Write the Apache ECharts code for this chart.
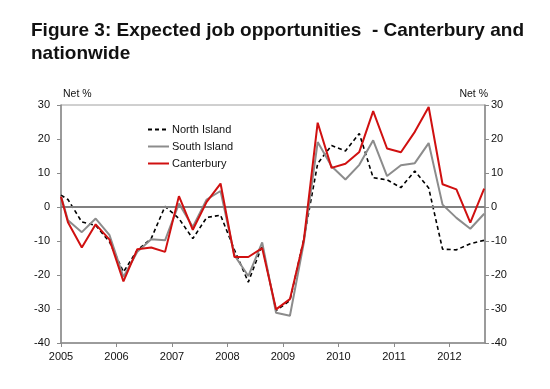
<!DOCTYPE html>
<html>
<head>
<meta charset="utf-8">
<script src="https://cdn.jsdelivr.net/npm/echarts@6/dist/echarts.min.js"></script>
<style>
html,body{margin:0;padding:0;background:#fff;}
#chart{width:550px;height:389px;}
</style>
</head>
<body>
<div id="chart"></div>
<script>
// Survey dates as decimal years (first point at start of 2005, then mid-quarter)
const dates = [2005.0, 2005.125, 2005.375, 2005.625, 2005.875,
  2006.125, 2006.375, 2006.625, 2006.875,
  2007.125, 2007.375, 2007.625, 2007.875,
  2008.125, 2008.375, 2008.625, 2008.875,
  2009.125, 2009.375, 2009.625, 2009.875,
  2010.125, 2010.375, 2010.625, 2010.875,
  2011.125, 2011.375, 2011.625, 2011.875,
  2012.125, 2012.375, 2012.625];
const northIsland = [3.5, 2.2, -4.4, -5.4, -10.3, -19.1, -12.7, -9.3, 0.2, -3.4, -9.3, -3.1, -2.4,
  -12.6, -22.1, -11.3, -30.5, -27.5, -9.5, 12.8, 18.1, 16.5, 21.6, 8.6, 8.0, 5.7, 10.6, 5.6,
  -12.4, -12.6, -10.8, -9.8];
const southIsland = [3.2, -3.9, -7.4, -3.4, -8.3, -20.6, -13.2, -9.5, -9.8, 1.0, -5.9, 2.2, 4.7,
  -14.2, -20.3, -10.4, -31.1, -32.0, -10.5, 19.1, 12.0, 8.1, 12.4, 19.6, 9.1, 12.3, 12.9, 18.8,
  0.7, -3.2, -6.4, -2.0];
const canterbury = [3.0, -4.5, -11.9, -5.1, -9.6, -21.9, -12.4, -11.9, -13.2, 3.2, -6.7, 1.5, 6.9,
  -14.7, -14.7, -12.1, -30.1, -27.1, -9.8, 24.8, 11.5, 12.7, 16.2, 28.2, 17.2, 16.1, 22.1, 29.4,
  6.7, 5.2, -4.6, 5.4];
const yearTicks = [2005, 2006, 2007, 2008, 2009, 2010, 2011, 2012];
const seriesNames = ['North Island', 'South Island', 'Canterbury'];

const pair = (vals) => vals.map((v, i) => [dates[i], v]);
const font = 'Liberation Sans, Arial, sans-serif';

const chart = echarts.init(document.getElementById('chart'), null, {renderer: 'canvas'});
const yAxisCommon = {
  type: 'value', min: -40, max: 30, interval: 10,
  axisLine: {show: true, lineStyle: {color: '#8a8a8a', width: 1.5}},
  axisTick: {show: true, inside: false, length: 4, lineStyle: {color: '#8a8a8a'}},
  splitLine: {show: false},
  nameTextStyle: {color: '#111', fontSize: 10.5, fontFamily: font}
};
chart.setOption({
  animation: false,
  backgroundColor: '#fff',
  title: {
    text: 'Figure 3: Expected job opportunities  - Canterbury and\nnationwide',
    left: 26, top: 14,
    textStyle: {fontSize: 19, fontWeight: 'bold', color: '#111', fontFamily: font, lineHeight: 23}
  },
  legend: {
    orient: 'vertical', left: 147, top: 124, padding: 0,
    itemWidth: 21, itemHeight: 10, itemGap: 6,
    itemStyle: {opacity: 0},
    textStyle: {fontSize: 11, color: '#111', fontFamily: font, padding: [0, 0, 0, -2]},
    data: seriesNames
  },
  grid: {left: 61, right: 65, top: 105, bottom: 46, show: true, borderColor: '#a0a0a0', borderWidth: 1},
  xAxis: {
    type: 'value', min: 2005, max: 2012.64, interval: 1,
    axisLine: {show: true, onZero: false, lineStyle: {color: '#8a8a8a', width: 1.5}},
    axisTick: {show: true, inside: false, length: 4, customValues: yearTicks, lineStyle: {color: '#8a8a8a'}},
    axisLabel: {color: '#111', fontSize: 11, fontFamily: font, margin: 8, customValues: yearTicks,
      formatter: (v) => String(Math.round(v))},
    splitLine: {show: false}
  },
  yAxis: [
    Object.assign({}, yAxisCommon, {position: 'left', name: 'Net %', nameLocation: 'end', nameGap: 5,
      axisLabel: {color: '#111', fontSize: 11, fontFamily: font, margin: 11},
      nameTextStyle: Object.assign({}, yAxisCommon.nameTextStyle, {align: 'left', padding: [0, 0, 0, 2]})}),
    Object.assign({}, yAxisCommon, {position: 'right', name: 'Net %', nameLocation: 'end', nameGap: 5,
      axisLabel: {color: '#111', fontSize: 11, fontFamily: font, margin: 6},
      nameTextStyle: Object.assign({}, yAxisCommon.nameTextStyle, {align: 'right', padding: [0, -3, 0, 0]})})
  ],
  series: [
    {name: seriesNames[0], type: 'line', data: pair(northIsland), showSymbol: false, symbol: 'none',
      lineStyle: {color: '#000', width: 1.6, type: [4, 3]}, itemStyle: {color: '#000'}, z: 3,
      markLine: {silent: true, symbol: 'none', label: {show: false},
        lineStyle: {color: '#808080', width: 2, type: 'solid'}, data: [{yAxis: 0}]}},
    {name: seriesNames[1], type: 'line', data: pair(southIsland), showSymbol: false, symbol: 'none',
      lineStyle: {color: '#8c8c8c', width: 2}, itemStyle: {color: '#8c8c8c'}, z: 4},
    {name: seriesNames[2], type: 'line', data: pair(canterbury), showSymbol: false, symbol: 'none',
      lineStyle: {color: '#d01010', width: 2}, itemStyle: {color: '#d01010'}, z: 5}
  ]
});
</script>
</body>
</html>
